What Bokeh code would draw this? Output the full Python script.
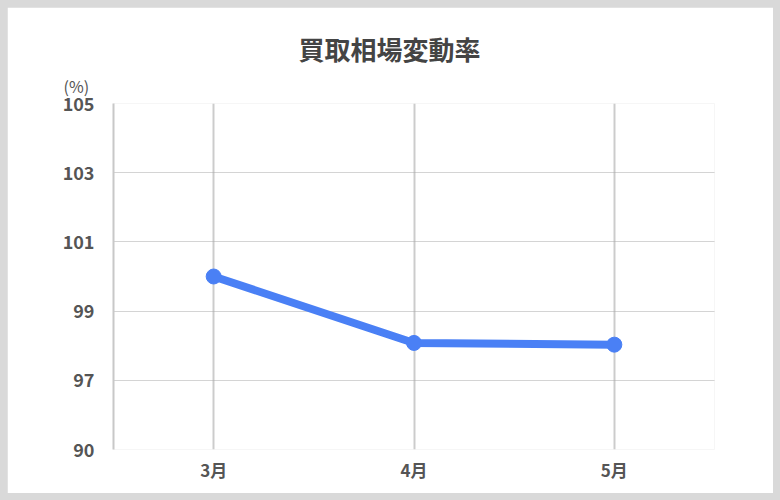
from bokeh.plotting import figure
from bokeh.models import Title, FixedTicker, GlobalInlineStyleSheet
from bokeh.embed import file_html
from bokeh.resources import INLINE

# data
months = ["3月", "4月", "5月"]
rates = [100.0, 98.08, 98.03]
y_ticks = [95, 97, 99, 101, 103, 105]
y_tick_labels = ["90", "97", "99", "101", "103", "105"]
title_text = "買取相場変動率"
unit_text = "(%)"

FONT = "Noto Sans CJK JP"
TXT = "#555555"

W, H = 766, 486
p = figure(x_range=months, y_range=(95, 105), width=W, height=H,
           output_backend="svg", toolbar_location=None,
           min_border_left=106, min_border_right=59,
           min_border_top=96, min_border_bottom=44)
p.stylesheets = [GlobalInlineStyleSheet(
    css="html {background:#d9d9d9 !important; margin:0 !important; padding:0 !important;} "
        "body {background:#d9d9d9 !important; margin:0 !important; padding:7px !important;}")]
p.background_fill_color = "white"
p.border_fill_color = "white"
p.outline_line_color = None

# grids
p.ygrid.ticker = FixedTicker(ticks=y_ticks)
p.ygrid.grid_line_color = "#a8a8a8"
p.ygrid.grid_line_dash = "1 1"
p.ygrid.grid_line_width = 1
p.xgrid.grid_line_color = "#cccccc"
p.xgrid.grid_line_width = 2

# y axis
p.yaxis.ticker = FixedTicker(ticks=y_ticks)
p.yaxis.major_label_overrides = {t: l for t, l in zip(y_ticks, y_tick_labels)}
p.yaxis.axis_line_color = "#c8c8c8"
p.yaxis.axis_line_width = 2
p.yaxis.major_tick_line_color = None
p.yaxis.minor_tick_line_color = None
p.yaxis.major_label_standoff = 13
p.yaxis.major_label_text_font = FONT
p.yaxis.major_label_text_font_style = "bold"
p.yaxis.major_label_text_font_size = "18px"
p.yaxis.major_label_text_color = TXT

# x axis
p.xaxis.axis_line_color = None
p.xaxis.major_tick_line_color = None
p.xaxis.minor_tick_line_color = None
p.xaxis.major_label_standoff = 1
p.xaxis.major_label_text_font = FONT
p.xaxis.major_label_text_font_style = "bold"
p.xaxis.major_label_text_font_size = "17px"
p.xaxis.major_label_text_color = TXT

# series
p.line(months, rates, line_color="#4a80f5", line_width=8)
p.scatter(months, rates, size=15, fill_color="#4a80f5", line_color="#4a80f5")

# unit label (nearest the frame) and main title
p.add_layout(Title(text=unit_text, align="left", offset=-50, standoff=11,
                   text_font=FONT, text_font_size="16px", text_font_style="normal",
                   text_color=TXT), "above")
p.title.text = title_text
p.title.align = "left"
p.title.offset = 185
p.title.standoff = 0
p.title.text_font = FONT
p.title.text_font_style = "bold"
p.title.text_font_size = "26px"
p.title.text_color = "#444444"

open("out.html", "w").write(file_html(p, INLINE))
